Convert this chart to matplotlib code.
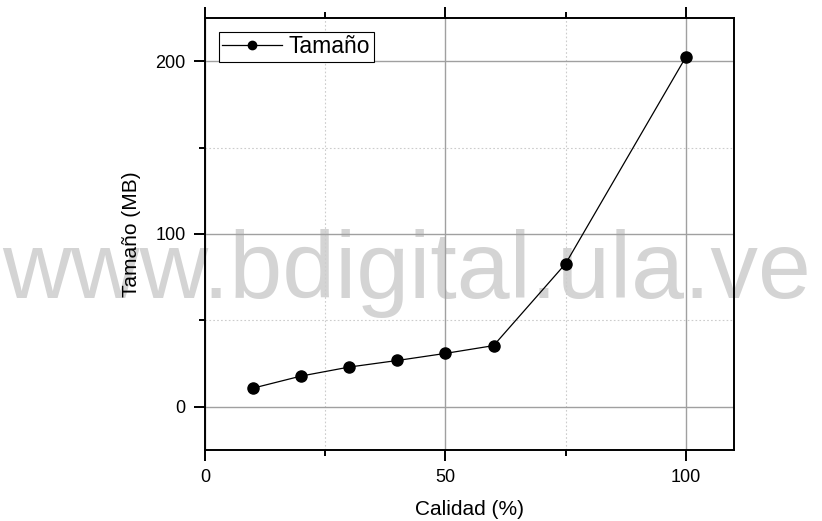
import numpy as np
import matplotlib.pyplot as plt
from matplotlib.ticker import MultipleLocator

plt.rcParams['font.family'] = ['Liberation Sans', 'DejaVu Sans']

# calidad (%) y tamaño del archivo (MB)
calidad = [10, 20, 30, 40, 50, 60, 75, 100]
tamano = [10.8, 17.8, 23.0, 26.8, 30.9, 35.4, 82.9, 202.5]

fig = plt.figure(figsize=(8.22, 5.21), dpi=100)
ax = fig.add_axes([0.2494, 0.1363, 0.6436, 0.8292])
ax.patch.set_alpha(0)

# marca de agua detrás de los ejes
fig.text(0.002, 0.428, "www.bdigital.ula.ve", fontsize=68.5, color="#d4d4d4",
         ha='left', va='baseline', zorder=-1)

ax.plot(calidad, tamano, color='black', linewidth=0.9, marker='o',
        markersize=8, label='Tamaño', zorder=3)

ax.set_xlim(0, 110)
ax.set_ylim(-25, 225)
ax.xaxis.set_major_locator(MultipleLocator(50))
ax.xaxis.set_minor_locator(MultipleLocator(25))
ax.yaxis.set_major_locator(MultipleLocator(100))
ax.yaxis.set_minor_locator(MultipleLocator(50))

ax.grid(which='major', color='#a0a0a0', linewidth=1.0, linestyle='-')
ax.grid(which='minor', color='#cccccc', linewidth=0.8, linestyle=(0, (1.5, 2)))
ax.set_axisbelow(True)

for s in ax.spines.values():
    s.set_linewidth(1.4)
    s.set_zorder(4)

ax.tick_params(which='both', direction='out', top=True, right=False,
               width=1.4, labelsize=13, pad=6)
ax.tick_params(which='major', length=8)
ax.tick_params(which='minor', length=4.5)

ax.set_xlabel('Calidad (%)', fontsize=15, labelpad=10)
ax.set_ylabel('Tamaño (MB)', fontsize=15, labelpad=10)

leg = ax.legend(loc='upper left', fontsize=16.5, frameon=True, fancybox=False,
                edgecolor='black', framealpha=1, borderpad=0.15,
                handlelength=2.6, handletextpad=0.3, markerscale=0.75,
                borderaxespad=0.6)
leg.get_frame().set_linewidth(0.8)

fig.savefig('out.png', dpi=100)
